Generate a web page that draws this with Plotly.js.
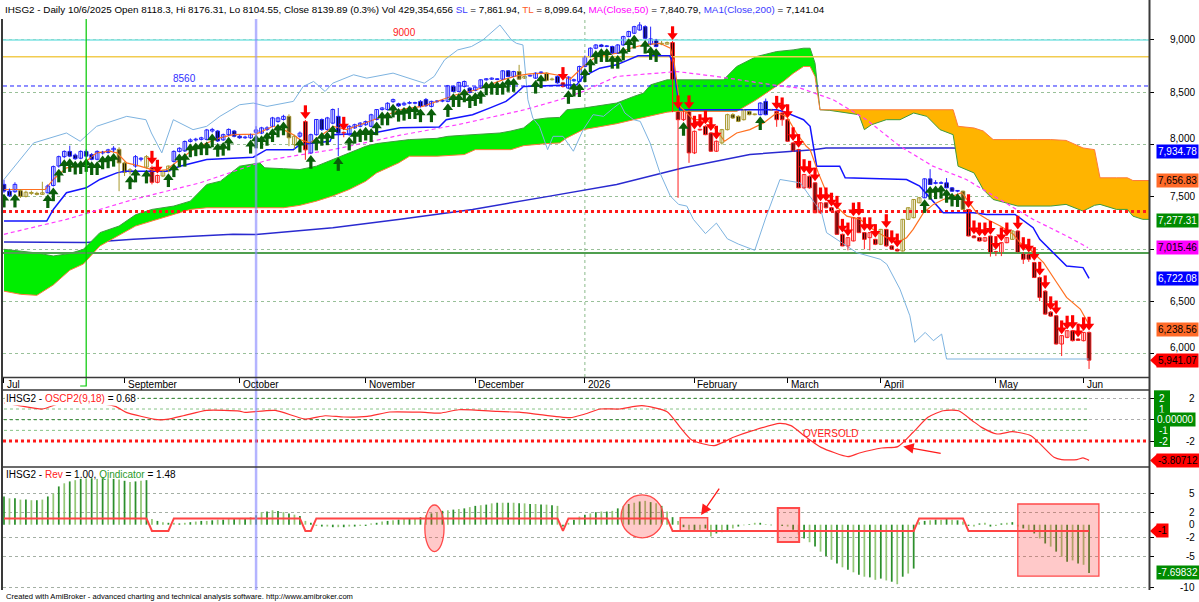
<!DOCTYPE html>
<html><head><meta charset="utf-8">
<script src="https://cdn.plot.ly/plotly-3.0.1.min.js"></script>
<style>html,body{margin:0;padding:0;background:#fff;overflow:hidden}#chart{width:1199px;height:602px}</style>
</head><body><div id="chart"></div>
<script>
// ---------------- DATA ----------------
const openP = [
7620,7556,7550,7560,7505,7540,7535,7525,7540,7610,
7795,7885,7935,7900,7870,7935,7905,7860,7920,7925,
7950,7955,7825,7740,7795,7860,7785,7780,7640,7700,
7745,7840,7935,7940,8030,8045,8050,8050,8130,8130,
8045,8095,8130,8080,8065,8065,8118,8110,8145,8175,
8220,8240,8270,8000,8080,8220,7920,8095,8240,8145,
8205,8270,8110,8095,8160,8175,8190,8175,8240,8335,
8335,8410,8390,8380,8395,8395,8413,8430,8365,8410,
8415,8413,8556,8508,8556,8540,8518,8540,8619,8625,
8622,8625,8705,8651,8698,8635,8655,8635,8686,8683,
8620,8650,8590,8540,8610,8603,8746,8841,8921,8952,
8937,8937,8873,8952,9032,9064,9095,9127,8960,9000,
8960,8960,8975,8317,8238,8317,7921,8140,8175,8111,
7937,8016,8143,8286,8270,8238,8317,8286,8286,8413,
8330,8317,8302,8238,8016,7952,7587,7698,7635,7349,
7444,7397,7365,7143,7032,7080,7302,7159,7111,7095,
7048,7190,7032,6999,6984,7286,7302,7444,7492,7673,
7630,7630,7635,7587,7555,7555,7381,7127,7111,7079,
7127,6975,6968,7063,7095,7175,6968,6952,6873,6730,
6600,6400,6365,6095,6159,6222,6143,6127,6206];
const highP = [
7665,7580,7640,7575,7560,7560,7550,7645,7620,7800,
7895,7945,7990,7915,7945,7955,7920,7945,7940,7960,
7985,7975,7840,7775,7900,7880,7900,7800,7715,7760,
7800,7945,7975,8040,8060,8065,8075,8150,8160,8140,
8105,8155,8140,8095,8085,8105,8176,8170,8175,8265,
8265,8285,8290,8095,8125,8235,8105,8245,8250,8265,
8345,8350,8125,8185,8200,8215,8230,8295,8340,8360,
8405,8440,8400,8410,8415,8410,8425,8445,8420,8425,
8430,8570,8565,8600,8612,8548,8556,8625,8635,8642,
8635,8712,8712,8705,8762,8660,8668,8690,8700,8690,
8640,8660,8600,8652,8630,8755,8850,8930,8960,8962,
8952,8945,8960,9040,9088,9135,9170,9140,9127,9010,
8990,8985,8990,8330,8325,8330,8135,8150,8185,8120,
8040,8150,8295,8300,8280,8340,8325,8295,8405,8440,
8340,8325,8310,8245,8025,7960,7720,7705,7640,7450,
7450,7400,7370,7150,7115,7305,7310,7165,7165,7100,
7195,7195,7040,7010,7290,7400,7480,7500,7678,7765,
7660,7650,7680,7595,7565,7560,7385,7135,7115,7115,
7130,6985,7068,7115,7180,7180,6975,6960,6880,6740,
6610,6410,6370,6180,6225,6230,6150,6210,6215];
const lowP = [
7540,7500,7540,7490,7495,7520,7515,7520,7535,7600,
7780,7870,7880,7855,7860,7880,7850,7850,7905,7915,
7930,7555,7700,7715,7780,7840,7770,7620,7630,7690,
7735,7830,7925,7930,8020,8030,8040,8040,8115,8025,
8035,8085,8070,8055,8055,8055,8105,8100,8130,8165,
8210,8230,7985,7960,8065,7855,7910,8085,8130,8135,
8195,7890,8070,8085,8150,8165,8180,8165,8230,8325,
8325,8400,8360,8370,8385,8385,8355,8360,8355,8400,
8405,8405,8500,8500,8545,8490,8510,8532,8612,8618,
8615,8618,8645,8645,8620,8628,8650,8628,8680,8605,
8612,8582,8545,8530,8600,8595,8738,8833,8912,8930,
8930,8866,8866,8945,9025,9058,9088,9010,8950,8930,
8950,8955,8310,7492,8225,7826,7910,8135,8090,7930,
7930,8000,8135,8245,8215,8230,8280,8280,8280,8280,
8325,8170,8180,8030,7930,7585,7580,7580,7345,7340,
7390,7360,7140,7030,6990,7075,7155,7000,6990,7040,
7040,7025,6995,6980,6978,7280,7295,7440,7488,7615,
7620,7625,7585,7550,7545,7380,7125,7105,7075,7070,
6930,6935,6935,7058,7090,6968,6860,6880,6728,6505,
6375,6355,6090,5980,6150,6120,6125,6120,5857];
const closeP = [
7556,7510,7620,7505,7545,7535,7525,7540,7605,7790,
7885,7935,7890,7865,7935,7890,7860,7935,7925,7950,
7965,7825,7735,7760,7885,7870,7885,7640,7705,7745,
7795,7935,7965,8030,8045,8050,8065,8140,8145,8035,
8095,8145,8080,8065,8072,8095,8140,8160,8160,8255,
8255,8270,8065,8080,8110,7950,8095,8240,8145,8255,
8335,8110,8115,8175,8190,8205,8220,8285,8335,8350,
8395,8430,8370,8395,8400,8397,8365,8372,8413,8413,
8420,8562,8508,8594,8603,8498,8549,8619,8629,8635,
8625,8705,8651,8698,8625,8651,8660,8683,8690,8613,
8625,8590,8555,8645,8620,8746,8841,8921,8952,8937,
8940,8873,8952,9032,9080,9127,9143,9016,9010,8937,
8968,8975,8317,8238,8317,7921,8127,8143,8095,7937,
8032,8143,8286,8254,8222,8333,8286,8288,8397,8286,
8333,8238,8238,8032,7937,7587,7714,7587,7349,7444,
7397,7365,7143,7032,7111,7302,7159,7095,7159,7048,
7190,7032,7000,6984,7286,7397,7476,7492,7673,7619,
7635,7635,7587,7555,7556,7381,7127,7110,7079,7111,
6968,6970,7063,7111,7175,6968,6905,6905,6730,6540,
6381,6362,6095,6175,6222,6127,6130,6206,5941];
// trend state per bar: B = up, O = neutral, R = down
const trendCode = "BBBOOOOOBB"+"BBBBBBBBBB"+"BOOOBBORRO"+"OBBBBBBBBB"+"BBBBBBBBBB"+"BBOOBRBBBB"+"BBRBBBBBBB"+"BBBBBBBBBB"+"BBBBBBBBBB"+"BBBBOOBBBO"+
                  "OBRBBBBBBB"+"BBBBBBBBBB"+"OORRRRRRRR"+"ROOOOOOOBB"+"ORRRRRRRRR"+"RRRRRRRRRR"+"ORRROOOOBB"+"BBBBBORRRR"+"RRRRORRRRR"+"RRRRRRRRR";
const buyIdx = [0,2,8,9,10,11,12,13,14,15,16,17,18,19,20,23,24,26,30,31,32,33,34,35,36,37,38,39,40,41,45,46,47,48,49,50,51,54,56,57,58,59,60,61,63,64,65,66,67,68,69,70,71,72,73,74,75,76,78,81,82,83,84,85,86,87,88,89,90,91,92,93,97,98,103,104,105,106,107,108,109,110,111,112,113,114,115,117,118,119,124,138,168,169,170,171,172,173,174];
const sellIdx = [27,28,55,62,102,122,123,125,126,127,128,129,130,141,142,143,144,145,146,147,148,149,150,151,152,153,154,155,156,157,158,159,161,162,163,176,177,178,179,180,181,182,183,185,186,187,188,189,190,191,192,193,194,195,196,197,198];

const monthTickIdx = [0,22,43,66,86,106,126,143,160,181,197];
const monthLabels = ["Jul","September","October","November","December","2026","February","March","April","May","Jun"];

const tlIdx = [0,7.5,9,11.4,13.9,16.9,19.3,20.6,22.4,24.8,27.9,29.7,32.1,34.5,37,39.4,41.8,44.3,46,49.1,51,52.8,54,55.8,57.7,60.1,62.5,65,67.4,69.8,72.8,76.4,78.9,80.7,82.5,86.2,88.6,91,93.5,95.9,99,101.4,103.3,105.7,108.1,111.8,114.3,116.7,119.7,121.6,122.3,123.4,124,125.8,128.2,129.4,130.6,131.5,133.7,136.1,138.6,141,142.8,144.6,146.4,147.1,148.6,150.1,151.8,153.8,156.2,158.6,161.1,163.5,164.7,165.9,167.8,169.6,171.4,173.2,174.8,175.7,177.5,179.4,181.8,184.2,185.4,187.2,189.7,192.1,193.9,196.4,198];
const tlVal = [7571,7571,7667,7778,7794,7921,7937,7921,7825,7794,7746,7762,7857,7952,8016,8064,8095,8095,8100,8175,8143,8095,8048,8016,8079,8175,8143,8190,8238,8286,8340,8365,8413,8444,8476,8524,8571,8619,8657,8676,8683,8660,8625,8746,8841,8873,8921,8952,8968,8921,8778,8365,8333,8238,8238,8175,8095,8032,8111,8143,8206,8302,8270,8111,7984,7952,7730,7540,7413,7317,7286,7190,7111,7079,7111,7190,7349,7429,7476,7508,7540,7476,7349,7286,7222,7143,7063,7000,6873,6683,6540,6429,6280];
const slIdx = [0,7.8,9,11.4,15,17.5,20.6,22,29.7,32.1,37,41.8,45.5,47.9,52.8,54,59.5,60,67.4,72.3,79.4,80.7,85.5,88.6,91.6,93.5,94.8,104.5,105.7,108.7,111.8,115.7,121.5,122.1,123,123.3,141,142.2,145.9,147.1,148.3,152.5,153.5,164.7,167.1,171.4,176.9,179.3,184.5,187.8,189,192.1,193.9,196.9,198];
const slVal = [7270,7270,7381,7540,7587,7667,7730,7746,7746,7794,7857,7873,7880,7952,7952,8000,8032,8095,8111,8160,8168,8238,8286,8349,8413,8492,8556,8571,8651,8730,8762,8848,8848,8778,8429,8333,8333,8317,8238,8175,7794,7794,7683,7667,7603,7349,7349,7333,7333,7206,7095,6937,6841,6825,6722];
const ma200Idx = [0,15,23.6,35.8,41.8,46,60,72.3,85.5,99.6,111.8,124,136.1,147.7,150,173,198];
const ma200Val = [7070,7064,7095,7127,7143,7141,7206,7286,7381,7508,7619,7778,7905,7952,7968,7968,7935];
const ma50Idx = [0,11.4,23.6,35.8,47.9,60,72.3,82.8,95,101.4,105.7,111.8,122.8,130,142.2,145.3,151.3,157.4,163.5,169.5,175.6,181.7,187.8,193.9,197.8];
const ma50Val = [7143,7286,7476,7635,7850,7952,8090,8190,8333,8429,8508,8651,8698,8651,8556,8540,8429,8238,7984,7794,7667,7476,7286,7127,7016];
const lagIdx = [0,5.4,11.4,13.9,16.9,22.4,25.9,26.9,28.8,30.9,34.5,37,39.4,43,45.5,48,52.8,54.6,56.5,58.6,60,63.8,66.2,71,76.7,78.5,80.4,82.8,85.3,87.4,90.5,92.6,93.5,94.7,95.6,96.5,97.7,99.2,100.2,102,103.9,105.7,107.5,109.4,111.2,112.4,113.3,114.9,116.1,117.9,119.7,121.6,123.1,124.6,125.8,128,130,132,134,137,139,141.6,145.3,149.2,150.1,153.8,155.6,159.9,161.1,163.5,165.3,166.2,168.1,169.6,171.1,172,198];
const lagVal = [7667,8016,8111,8032,8175,8270,8238,8111,7921,8238,8143,8175,8270,8381,8397,8365,8413,8556,8603,8508,8587,8667,8635,8683,8587,8651,8810,8905,8937,9000,9143,9000,8968,8952,8429,8254,8175,7952,8079,8079,7937,8143,8286,8270,8349,8397,8302,8238,8222,8016,7730,7508,7429,7413,7286,7150,7250,7100,7050,6990,7300,7667,7635,7349,7159,7032,6968,6905,6857,6619,6365,6111,6206,6127,6190,5952,5952];
const cloudIdx = [0,3,6,9,12,14.5,17.5,21,24,27,31,34,37,39.5,43,46.7,47.6,51,54,57,60,63,66,68,72,74,79,81,84,86,90.5,92.5,94.8,96.7,99,101.4,102.7,105.7,111.8,114.9,116.7,118,121,122.3,131.3,133.7,137.3,141,142.2,144,145.9,147.1,148,148.9,150.7,156,157,158.3,161,163.5,166,168.4,170.8,173.2,174.1,177,178.7,180.5,185,191,193.8,196.9,199,200,203,205,206,207.8,209];
const spanA = [7000,6985,6965,6936,6960,7000,7159,7222,7330,7381,7413,7460,7619,7651,7794,7825,7778,7770,7762,7794,7857,7921,7984,8010,8040,8048,8060,8079,8090,8095,8111,8130,8159,8238,8254,8260,8333,8349,8397,8460,8492,8571,8619,8619,8619,8746,8841,8889,8895,8905,8921,8921,8778,8333,8327,8286,8143,8190,8238,8238,8302,8270,8143,8095,7794,7730,7571,7476,7413,7413,7429,7365,7420,7429,7381,7381,7317,7286,7286];
const spanB = [6600,6570,6560,6660,6800,6860,7032,7130,7222,7270,7330,7381,7397,7397,7397,7397,7397,7397,7420,7460,7510,7571,7650,7730,7825,7889,7889,7895,7905,7952,7952,7952,7990,8000,8010,8016,8064,8143,8200,8238,8260,8270,8310,8317,8317,8317,8429,8560,8603,8680,8746,8746,8651,8333,8333,8333,8333,8333,8333,8333,8333,8333,8333,8333,8175,8159,8130,8048,8048,8048,8040,7968,7952,7683,7683,7683,7657,7657,7657];
const priceLevels = [9000, 8840, 8560, 7360, 6965];
const mainTicks = [6000,6500,7000,7500,8000,8500,9000];
const lastVals = [7934.78, 7656.83, 7277.31, 7015.46, 6722.08, 6238.56, 5941.07];

const oscIdx = [0,3,7,10,13,17,20.3,22.3,28,30,33,37,43,44,49.5,55,58.6,62,66.3,70.4,76,79.6,83,90,94,97,103.3,106,108.8,112.3,116.4,121,123.4,125.5,129.6,133.1,136.6,141.5,143.6,146.4,149.1,154,156.1,160.2,163.1,165.9,168.6,171.4,174.2,176.7,178.4,181.2,184,187.4,191.6,193,195.8,196.9,198];
const oscVal = [1.56,1.3,1.0,1.5,1.6,1.56,1.25,0.69,0,0.05,0.4,0.87,0.8,0.69,0.87,0.06,0.37,0.25,0.31,0.72,0.7,0.62,0.93,0.78,0.7,0.53,0.19,0.53,1.0,1.0,1.31,0.75,-0.72,-1.9,-2.43,-1.65,-1.03,-0.34,-0.56,-1.65,-2.59,-3.46,-3.12,-2.65,-2.52,-1.18,0.22,0.84,0.84,-0.09,-0.72,-1.34,-1.12,-1.5,-3.52,-3.74,-3.74,-3.58,-3.81];
const oscLevels = [2, 1, 0, -1, -2];
const oscTicks = [2, 0, -2];

const revIdx = [0,26,27,30,31,54,55,56,57,101,102,103,121,122,166,167,175,176,198];
const revVal = [1,1,-1,-1,1,1,-1,-1,1,1,-1,1,1,-1,-1,1,1,-1,-1];
const qInd = [4.5,4.2,4.2,4.0,4.0,3.9,3.9,4.0,4.5,5.0,
 6.1,6.6,6.9,7.1,7.3,7.4,7.4,7.3,7.4,7.4,
 7.3,7.2,7.0,6.8,6.9,7.0,7.1,
 0.9,0.6,0.4,0.3,
 0.3,0.2,0.3,0.4,0.5,0.6,0.6,0.7,0.8,0.8,0.9,0.9,1.0,1.0,1.2,
 1.5,2.0,2.1,2.3,2.2,2.0,1.8,1.6,1.4,
 0.6,0.3,
 -0.2,-0.3,-0.3,-0.4,-0.4,-0.4,-0.3,-0.3,-0.2,-0.2,0.2,0.3,0.5,
 0.6,0.7,0.8,0.9,1.0,1.0,1.2,1.5,
 1.8,2.0,2.2,2.3,2.4,2.5,2.6,2.8,3.0,3.1,3.2,3.4,3.5,3.5,3.5,3.5,3.4,3.4,3.3,3.3,3.2,3.2,3.1,3.0,
 -0.3,0.3,0.8,1.3,1.6,1.8,2.0,
 2.1,2.1,2.2,2.6,3.0,3.3,3.5,3.7,3.8,3.6,3.4,3.0,2.1,
 1.2,0.6,-0.4,-0.8,-1.0,-0.8,-0.6,
 -1.9,-1.4,-1.2,-0.9,-0.6,-0.3,-0.1,0.1,0.3,0.3,0.1,-0.1,
 0.0,-0.2,-0.3,-0.8,-1.6,
 -2.2,-2.8,-3.5,-4.3,-5.0,-5.6,-6.2,-6.8,-7.2,-7.6,-8.0,-8.3,-8.4,-8.8,-8.6,-8.9,-9.1,-9.5,-8.3,-7.8,-7.0,
 0.4,0.6,0.7,0.8,0.8,0.9,0.8,0.7,0.5,
 -0.2,-0.3,0.2,0.3,-0.3,-0.2,0.2,0.3,0.4,
 -0.3,-0.6,-1.0,-1.4,-2.2,-3.0,-3.5,-4.3,-5.1,-5.9,-5.7,-6.2,-6.4,-7.7];
const revTicks = [5, 2, 0, -2, -5, -10];

// ---------------- LAYOUT CONSTANTS ----------------
const W = 1199, H = 602;
const X_RANGE = [-0.18, 208.94];
const Y_MAIN = [5780, 9200], Y_OSC = [-4.43, 2.78], Y_REV = [-10.42, 9.2];
const PX = { mainTop: 19, mainBot: 377, oscTop: 390, oscBot: 467, revTop: 467, revBot: 590, left: 3, right: 1149 };
const py = p => 1 - p / H, pxX = p => p / W;
const ppMain = (Y_MAIN[1] - Y_MAIN[0]) / (PX.mainBot - PX.mainTop);
const ppOsc = (Y_OSC[1] - Y_OSC[0]) / (PX.oscBot - PX.oscTop);
const ppRev = (Y_REV[1] - Y_REV[0]) / (PX.revBot - PX.revTop);
const FONT = "Liberation Sans, Arial, sans-serif";
const N = closeP.length;
const barIdx = Array.from({length: N}, (_, i) => i);
const regimeColor = { B: '#2323ff', O: '#a8982c', R: '#ff1e1e' };

const traces = [];
const line = (x, y, color, width, extra = {}, yaxis = 'y') =>
  Object.assign({ type: 'scatter', mode: 'lines', x, y, xaxis: 'x', yaxis, line: { color, width }, hoverinfo: 'skip', showlegend: false }, extra);

// MA200 (under the cloud)
traces.push(line(ma200Idx, ma200Val, '#2a2ad0', 1.5));
// Ichimoku cloud
const cloudTop = cloudIdx.map((_, k) => Math.max(spanA[k], spanB[k]));
traces.push(line(cloudIdx, spanB, 'rgba(0,0,0,0)', 0));
traces.push(line(cloudIdx, cloudTop, 'rgba(0,0,0,0)', 0, { fill: 'tonexty', fillcolor: '#00ee00' }));
traces.push(line(cloudIdx, spanA, 'rgba(0,0,0,0)', 0));
traces.push(line(cloudIdx, cloudTop, 'rgba(0,0,0,0)', 0, { fill: 'tonexty', fillcolor: '#ffb400' }));
traces.push(line(cloudIdx, spanA, '#3e9c3e', 1));
traces.push(line(cloudIdx, spanB, '#ff7a3a', 1));
// horizontal price levels
const levelStyles = [
  { color: '#7fe3e3', width: 1.5 },
  { color: '#f2cc50', width: 1.5 },
  { color: '#2020ff', width: 1, dash: '4px,3px' },
  { color: '#ff1a1a', width: 3, dash: '3px,3px' },
  { color: '#4f9f4f', width: 2 }
];
priceLevels.forEach((v, k) => traces.push(line([X_RANGE[0], X_RANGE[1]], [v, v], levelStyles[k].color, levelStyles[k].width,
  { line: levelStyles[k] })));
// MA50, lagging line, SL, TL
traces.push(line(ma50Idx, ma50Val, '#ff3cff', 1.2, { line: { color: '#ff3cff', width: 1.2, dash: '4px,3px' } }));
traces.push(line(lagIdx, lagVal, '#7db3e0', 1));
traces.push(line(slIdx, slVal, '#1414ff', 1.5));
traces.push(line(tlIdx, tlVal, '#ff7020', 1.2));
// candles: wicks
['B', 'O', 'R'].forEach(k => {
  const xs = [], ys = [];
  barIdx.forEach(i => { if (trendCode[i] === k) { xs.push(i, i, null); ys.push(lowP[i], highP[i], null); } });
  traces.push(line(xs, ys, regimeColor[k], 1));
});
// candles: bodies
traces.push({
  type: 'bar', x: barIdx, base: barIdx.map(i => Math.min(openP[i], closeP[i])),
  y: barIdx.map(i => Math.max(Math.abs(closeP[i] - openP[i]), 7)), width: 0.66,
  marker: { color: barIdx.map(i => closeP[i] >= openP[i] ? '#ffffff' : '#000000'),
            line: { color: barIdx.map(i => regimeColor[trendCode[i]]), width: 1 } },
  xaxis: 'x', yaxis: 'y', hoverinfo: 'skip', showlegend: false
});
// signal arrows
const mk = (x, y, symbol, color, size, lw) => ({ type: 'scatter', mode: 'markers', x, y, xaxis: 'x', yaxis: 'y', hoverinfo: 'skip', showlegend: false,
  marker: { symbol, size, color, line: { color, width: lw } } });
const G = '#0a5e0a', Rr = '#ff0000';
traces.push(mk(buyIdx, buyIdx.map(i => lowP[i] - 10.5 * ppMain), 'line-ns', G, 6, 3.2));
traces.push(mk(buyIdx, buyIdx.map(i => lowP[i] - 5.5 * ppMain), 'triangle-up', G, 9, 0));
traces.push(mk(sellIdx, sellIdx.map(i => highP[i] + 10.5 * ppMain), 'line-ns', Rr, 6, 3.2));
traces.push(mk(sellIdx, sellIdx.map(i => highP[i] + 5.5 * ppMain), 'triangle-down', Rr, 9, 0));

// OSC panel
const oscLevelStyle = { '2': ['#2e8b2e', 1], '1': ['#85c285', 1], '0': ['#2e8b2e', 1], '-1': ['#85c285', 1] };
oscLevels.forEach(l => {
  if (l === -2) traces.push(line([X_RANGE[0], X_RANGE[1]], [l, l], '#ff1a1a', 3, { line: { color: '#ff1a1a', width: 3, dash: '3px,3px' } }, 'y2'));
  else traces.push(line([0, N - 1], [l, l], oscLevelStyle[String(l)][0], 1, { line: { color: oscLevelStyle[String(l)][0], width: 1, dash: '3px,3px' } }, 'y2'));
});
traces.push(line(oscIdx, oscVal, '#ff3030', 1.2, { line: { color: '#ff3030', width: 1.2, shape: 'spline', smoothing: 0.6 } }, 'y2'));

// Rev panel
traces.push({ type: 'bar', x: barIdx, y: qInd, width: 0.32, xaxis: 'x', yaxis: 'y3', hoverinfo: 'skip', showlegend: false,
  marker: { color: barIdx.map(i => i % 2 ? '#94c878' : '#2c8f2c'), line: { width: 0 } } });
traces.push(line(revIdx, revVal, '#ff4545', 2, {}, 'y3'));

// ---------------- ANNOTATIONS ----------------
const ann = [];
const txt = (o) => Object.assign({ showarrow: false, font: { family: FONT, size: 10, color: '#000' } }, o);
ann.push(txt({ xref: 'paper', yref: 'paper', x: pxX(3), y: py(9), xanchor: 'left', yanchor: 'middle', font: { family: FONT, size: 9.85, color: '#000' },
  text: 'IHSG2 - Daily 10/6/2025 Open 8118.3, Hi 8176.31, Lo 8104.55, Close 8139.89 (0.3%) Vol 429,354,656 <span style="color:#3c3cff">SL</span> = 7,861.94, <span style="color:#ff5a1e">TL</span> = 8,099.64, <span style="color:#ff00ff">MA(Close,50)</span> = 7,840.79, <span style="color:#3c3cff">MA1(Close,200)</span> = 7,141.04' }));
monthTickIdx.forEach((t, k) => ann.push(txt({ xref: 'x', yref: 'paper', x: t, y: py(384), xanchor: 'left', yanchor: 'middle', xshift: 1, text: monthLabels[k] })));
ann.push(txt({ xref: 'x', yref: 'y', x: 73, y: 9000, yanchor: 'bottom', yshift: 0, text: '9000', font: { family: FONT, size: 10, color: '#ff2020' } }));
ann.push(txt({ xref: 'x', yref: 'y', x: 33, y: 8560, yanchor: 'bottom', yshift: 0, text: '8560', font: { family: FONT, size: 10, color: '#3030ff' } }));
ann.push(txt({ xref: 'paper', yref: 'paper', x: pxX(4), y: py(398), xanchor: 'left', yanchor: 'middle', bgcolor: '#ffffff',
  text: 'IHSG2 - <span style="color:#ff2020">OSCP2(9,18)</span> = 0.68' }));
ann.push(txt({ xref: 'paper', yref: 'paper', x: pxX(4), y: py(474), xanchor: 'left', yanchor: 'middle',
  text: 'IHSG2 - <span style="color:#ff2020">Rev</span> = 1.00, <span style="color:#2a9a2a">Qindicator</span> = 1.48' }));
ann.push(txt({ xref: 'x', yref: 'y2', x: 151, y: -2, yanchor: 'bottom', yshift: 0, text: 'OVERSOLD', font: { family: FONT, size: 10, color: '#ff2020' } }));
ann.push(txt({ xref: 'paper', yref: 'paper', x: pxX(4), y: py(596), xanchor: 'left', yanchor: 'middle', text: 'Created with AmiBroker - advanced charting and technical analysis software. http://www.amibroker.com', font: { family: FONT, size: 7.6, color: '#000' } }));
// arrows
ann.push({ xref: 'x', yref: 'y2', axref: 'x', ayref: 'y2', x: 164.1, y: -2.52, ax: 171.2, ay: -3.18, showarrow: true, arrowhead: 2, arrowsize: 1.6, arrowwidth: 1.3, arrowcolor: '#ff1a1a', text: '' });
ann.push({ xref: 'x', yref: 'y3', axref: 'x', ayref: 'y3', x: 127.2, y: 1.54, ax: 130.7, ay: 6.0, showarrow: true, arrowhead: 2, arrowsize: 1.6, arrowwidth: 1.3, arrowcolor: '#ff1a1a', text: '' });
// right axis labels (tick labels that a value box would cover are lifted above it, or hidden when fully covered)
const RX = pxX(1197);
mainTicks.forEach(v => {
  let shift = 0, hidden = false;
  lastVals.forEach(b => {
    const dy = (v - b) / ppMain;
    if (Math.abs(dy) < 13) { if (dy > 2) shift = Math.max(shift, 13 - dy); else hidden = true; }
  });
  if (!hidden) ann.push(txt({ xref: 'paper', yref: 'y', x: RX, y: v, xanchor: 'right', yanchor: 'middle', yshift: shift, text: v.toLocaleString('en-US') }));
});
oscTicks.forEach(v => { if (v !== 0) ann.push(txt({ xref: 'paper', yref: 'y2', x: RX, y: v, xanchor: 'right', yanchor: 'middle', text: String(v) })); });
revTicks.forEach(v => ann.push(txt({ xref: 'paper', yref: 'y3', x: RX, y: v, xanchor: 'right', yanchor: 'middle', text: String(v) })));
// value boxes
const boxStyle = [['#0000ff', '#fff'], ['#ff6a28', '#000'], ['#008c00', '#fff'], ['#ff00ff', '#000'], ['#0000ff', '#fff'], ['#ff6a28', '#000'], ['#ff0000', '#000']];
const BX = pxX(1156);
lastVals.forEach((v, k) => ann.push(txt({ xref: 'paper', yref: 'y', x: BX, y: v, xanchor: 'left', yanchor: 'middle', borderpad: 1,
  bgcolor: boxStyle[k][0], font: { family: FONT, size: 10, color: boxStyle[k][1] },
  text: v.toLocaleString('en-US', { minimumFractionDigits: 2, maximumFractionDigits: 2 }) })));
[2, 1, -1, -2].forEach(v => ann.push(txt({ xref: 'paper', yref: 'y2', x: pxX(1157), y: v, xanchor: 'left', yanchor: 'middle', text: String(v), font: { family: FONT, size: 10, color: '#fff' } })));
ann.push(txt({ xref: 'paper', yref: 'y2', x: pxX(1155), y: 0, xanchor: 'left', yanchor: 'middle', bgcolor: '#008c00', borderpad: 1, text: (0).toFixed(5), font: { family: FONT, size: 10, color: '#fff' } }));
ann.push(txt({ xref: 'paper', yref: 'y2', x: BX, y: oscVal[oscVal.length - 1], xanchor: 'left', yanchor: 'middle', bgcolor: '#ff0000', borderpad: 1, text: '-3.80712', font: { family: FONT, size: 10, color: '#000' } }));
ann.push(txt({ xref: 'paper', yref: 'y3', x: BX, y: revVal[revVal.length - 1], xanchor: 'left', yanchor: 'middle', bgcolor: '#ff0000', borderpad: 1, text: String(revVal[revVal.length - 1]), font: { family: FONT, size: 10, color: '#000' } }));
ann.push(txt({ xref: 'paper', yref: 'y3', x: BX, y: -7.69832, xanchor: 'left', yanchor: 'middle', bgcolor: '#008c00', borderpad: 1, text: '-7.69832', font: { family: FONT, size: 10, color: '#fff' } }));

// ---------------- SHAPES ----------------
const shapes = [];
const tip = (v, yref, pp) => ({ type: 'path', xref: 'paper', yref, layer: 'above', fillcolor: '#ff0000', line: { width: 0 },
  path: `M ${pxX(1150)},${v} L ${pxX(1157)},${v + 6.5 * pp} L ${pxX(1157)},${v - 6.5 * pp} Z` });
shapes.push(tip(lastVals[lastVals.length - 1], 'y', ppMain));
shapes.push(tip(oscVal[oscVal.length - 1], 'y2', ppOsc));
shapes.push(tip(revVal[revVal.length - 1], 'y3', ppRev));
shapes.push({ type: 'rect', xref: 'paper', yref: 'y2', x0: pxX(1154), x1: pxX(1170), y0: -2.55, y1: 2.75, fillcolor: '#008c00', line: { width: 0 }, layer: 'above' });
// year separator and cursor lines
shapes.push({ type: 'line', xref: 'x', yref: 'paper', x0: 106, x1: 106, y0: py(PX.mainBot), y1: py(PX.mainTop), line: { color: 'rgba(60,140,60,0.6)', width: 1, dash: 'dot' }, layer: 'below' });
shapes.push({ type: 'path', xref: 'x', yref: 'paper', path: `M 15,${py(PX.mainTop)} L 15,${py(386)} L 13.9,${py(386)}`, line: { color: '#00c800', width: 1.2 }, layer: 'above' });
shapes.push({ type: 'line', xref: 'x', yref: 'paper', x0: 46, x1: 46, y0: py(PX.revBot), y1: py(PX.mainTop), line: { color: 'rgba(140,140,255,0.65)', width: 2.5 }, layer: 'above' });
// highlight markers in Rev panel
const pink = 'rgba(255,60,60,0.28)', pinkLine = '#ff4a4a';
shapes.push({ type: 'circle', xref: 'x', yref: 'y3', x0: 76.8, x1: 80.3, y0: -4.3, y1: 3.14, fillcolor: pink, line: { color: pinkLine, width: 1.3 }, layer: 'above' });
shapes.push({ type: 'circle', xref: 'x', yref: 'y3', x0: 112.6, x1: 120.3, y0: -2.1, y1: 4.74, fillcolor: pink, line: { color: pinkLine, width: 1.3 }, layer: 'above' });
shapes.push({ type: 'rect', xref: 'x', yref: 'y3', x0: 123.4, x1: 128.4, y0: -1.05, y1: 1.12, fillcolor: pink, line: { color: pinkLine, width: 1.5 }, layer: 'above' });
shapes.push({ type: 'rect', xref: 'x', yref: 'y3', x0: 141.2, x1: 145.1, y0: -2.76, y1: 2.66, fillcolor: pink, line: { color: pinkLine, width: 2 }, layer: 'above' });
shapes.push({ type: 'rect', xref: 'x', yref: 'y3', x0: 185, x1: 199.8, y0: -8.2, y1: 3.3, fillcolor: pink, line: { color: pinkLine, width: 1.3 }, layer: 'above' });
// frame
const fr = '#3a3a3a';
shapes.push({ type: 'line', xref: 'paper', yref: 'paper', x0: pxX(2), x1: pxX(2), y0: py(PX.revBot), y1: py(PX.mainTop), line: { color: fr, width: 2 } });
shapes.push({ type: 'line', xref: 'paper', yref: 'paper', x0: pxX(1149.5), x1: pxX(1149.5), y0: py(PX.revBot), y1: 1, line: { color: fr, width: 2 } });
[PX.mainBot + 0.5, PX.oscTop, PX.oscBot].forEach(p => shapes.push({ type: 'line', xref: 'paper', yref: 'paper', x0: pxX(2), x1: pxX(1149.5), y0: py(p), y1: py(p), line: { color: fr, width: 1.3 } }));

// ---------------- LAYOUT ----------------
const gridDot = 'rgba(70,140,70,0.55)';
const yBase = { side: 'right', anchor: 'x', zeroline: false, showticklabels: false, ticks: 'outside', ticklen: 4, tickcolor: '#000', fixedrange: true, showline: false, griddash: 'dot', gridcolor: gridDot, gridwidth: 1 };
const layout = {
  width: W, height: H, margin: { l: 0, r: 0, t: 0, b: 0 }, paper_bgcolor: '#fff', plot_bgcolor: '#fff',
  showlegend: false, hovermode: false, barmode: 'overlay', dragmode: false,
  xaxis: { domain: [pxX(PX.left), pxX(PX.right)], range: X_RANGE, anchor: 'y', showgrid: false, zeroline: false, showline: false,
    tickvals: monthTickIdx, ticks: 'outside', ticklen: 5, tickcolor: '#000', showticklabels: false, fixedrange: true },
  yaxis: Object.assign({}, yBase, { domain: [py(PX.mainBot), py(PX.mainTop)], range: Y_MAIN, tickvals: mainTicks, showgrid: true }),
  yaxis2: Object.assign({}, yBase, { domain: [py(PX.oscBot), py(PX.oscTop)], range: Y_OSC, tickvals: oscTicks, showgrid: true, gridcolor: 'rgba(90,90,90,0.5)' }),
  yaxis3: Object.assign({}, yBase, { domain: [py(PX.revBot), py(PX.revTop)], range: Y_REV, tickvals: revTicks.filter(v => v !== 0), showgrid: true, gridcolor: 'rgba(90,110,90,0.55)' }),
  annotations: ann, shapes: shapes,
  font: { family: FONT, size: 10, color: '#000' }
};
Plotly.newPlot('chart', traces, layout, { staticPlot: true, displayModeBar: false });
</script></body></html>
